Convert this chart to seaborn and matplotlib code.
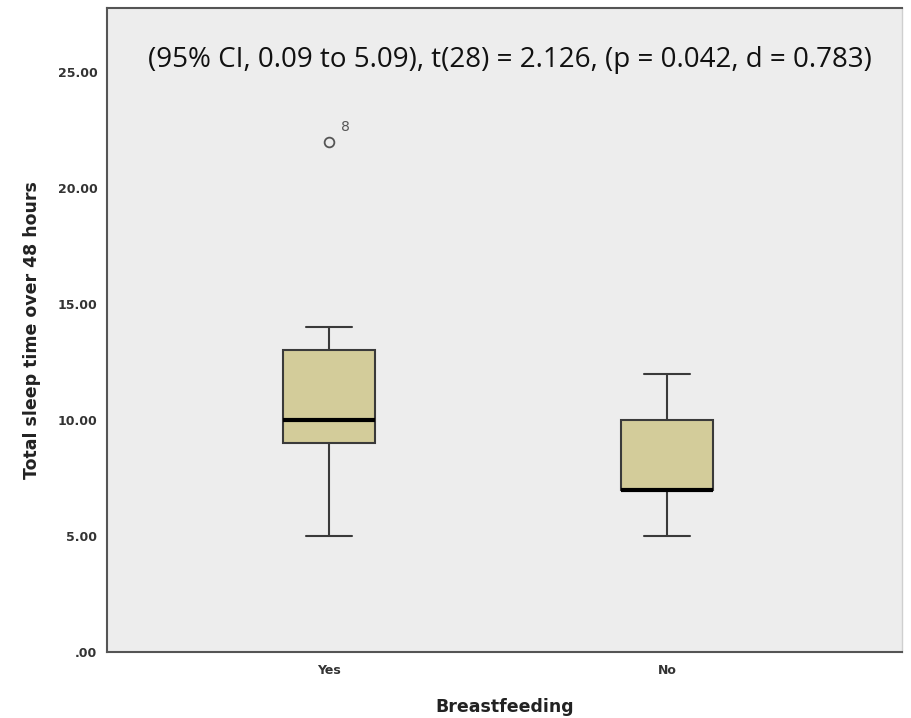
import numpy as np
import pandas as pd
import matplotlib
matplotlib.use("Agg")
import matplotlib.pyplot as plt
import seaborn as sns

# Data (n=15 per group)
categories = ["Yes", "No"]
yes_values = [5, 7, 8, 9, 9, 9, 10, 10, 11, 12, 13, 13, 14, 14, 22]
no_values = [5, 6, 6, 7, 7, 7, 7, 7, 8, 9, 10, 10, 11, 12, 12]
outlier_label = "8"
outlier_value = 22
y_ticks = [0, 5, 10, 15, 20, 25]
y_tick_labels = [".00", "5.00", "10.00", "15.00", "20.00", "25.00"]
annotation = "(95% CI, 0.09 to 5.09), t(28) = 2.126, (p = 0.042, d = 0.783)"

df = pd.DataFrame({
    "Breastfeeding": ["Yes"] * len(yes_values) + ["No"] * len(no_values),
    "Total sleep time over 48 hours": yes_values + no_values,
})

sns.set_theme(style="white")
plt.rcParams["font.family"] = ["DejaVu Sans"]

fig = plt.figure(figsize=(9.12, 7.18), dpi=100)
ax = fig.add_axes([107 / 912, 1 - 652 / 718, (902 - 107) / 912, (652 - 8) / 718])
ax.set_facecolor("#ededed")

edge = "#3a3a3a"
sns.boxplot(
    data=df, x="Breastfeeding", y="Total sleep time over 48 hours",
    order=categories, color="#d3cc9a", saturation=1, width=0.27,
    linecolor=edge, linewidth=1.5, whis=1.5, ax=ax,
    medianprops=dict(color="black", linewidth=3),
    flierprops=dict(marker="o", markersize=7, markerfacecolor="none",
                    markeredgecolor="#555555", markeredgewidth=1.3),
)

ax.text(0.035, outlier_value + 0.35, outlier_label, fontsize=10, color="#555555",
        ha="left", va="bottom")

ax.set_xlim(-0.657, 1.695)
ax.set_ylim(0, 27.76)
ax.set_yticks(y_ticks)
ax.set_yticklabels(y_tick_labels)
ax.tick_params(axis="both", which="both", length=6, width=1.2, color="#444444",
               labelsize=9, labelcolor="#333333", direction="out", pad=1)
ax.tick_params(axis="x", pad=3)
for lbl in ax.get_yticklabels() + ax.get_xticklabels():
    lbl.set_fontweight("bold")

for side in ["left", "bottom", "top"]:
    ax.spines[side].set_color("#555555")
    ax.spines[side].set_linewidth(1.5)
ax.spines["right"].set_color("#cfcfcf")
ax.spines["right"].set_linewidth(1)

ax.set_xlabel("Breastfeeding", fontsize=12.5, fontweight="bold", color="#222222", labelpad=15)
ax.set_ylabel("Total sleep time over 48 hours", fontsize=12.5, fontweight="bold",
              color="#222222", labelpad=12)

ax.text(0.507, 0.92, annotation, transform=ax.transAxes, ha="center", va="center",
        fontsize=20, color="#111111", family=["Open Sans", "DejaVu Sans"])

fig.savefig("out.png", dpi=100)
